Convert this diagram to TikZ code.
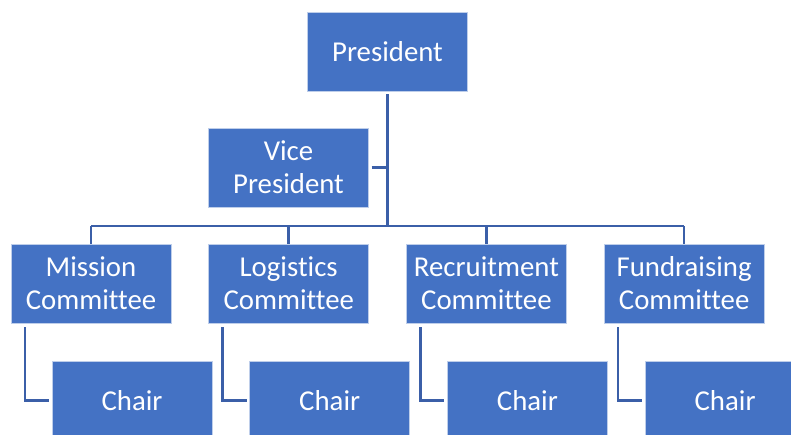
\documentclass[tikz,border=0pt]{standalone}
\usepackage{fontspec}
\setmainfont{Carlito}[Ligatures=NoCommon]
\usetikzlibrary{positioning}
\definecolor{boxblue}{RGB}{68,114,196}
\definecolor{lineblue}{RGB}{59,95,168}

\begin{document}
\begin{tikzpicture}[x=1pt, y=1pt, node distance=37pt,
    box/.style={draw=white!65!boxblue, line width=0.8pt, fill=boxblue, text=white,
      outer sep=0pt, minimum width=160pt, minimum height=79pt, align=center,
      font=\fontsize{28.8}{33}\selectfont},
    link/.style={draw=lineblue, line width=2.5pt}]
  \useasboundingbox (0,0) rectangle (791,-434);

  \node[box] at (387.5,-51.5)                          (president)   {President};
  \node[box, below=37pt of president, xshift=-99pt]    (vice)        {Vice\\President};
  \node[box] at (91,-283.5)                            (mission)     {Mission\\Committee};
  \node[box, right=37.7pt of mission]                  (logistics)   {Logistics\\Committee};
  \node[box, right=37.7pt of logistics]                (recruitment) {Recruitment\\Committee};
  \node[box, right=37.7pt of recruitment]              (fundraising) {Fundraising\\Committee};
  \coordinate[above=18pt of mission.north] (bus);

  % chairs and their links
  \foreach \c in {mission, logistics, recruitment, fundraising}{
    \node[box, below=38pt of \c, xshift=41pt] (\c chair) {Chair};
    \draw[link, shorten <=4pt, shorten >=3pt] ([xshift=14pt]\c.south west) |- (\c chair.west);
    \draw[link] (bus -| \c) -- (\c.north);
  }

  \draw[link, shorten <=3pt] (president.south) -- (president |- bus);
  \draw[link] (bus -| mission) -- (bus -| fundraising);
  \draw[link, shorten <=3pt] (vice.east) -- (vice.east -| president);
\end{tikzpicture}
\end{document}
